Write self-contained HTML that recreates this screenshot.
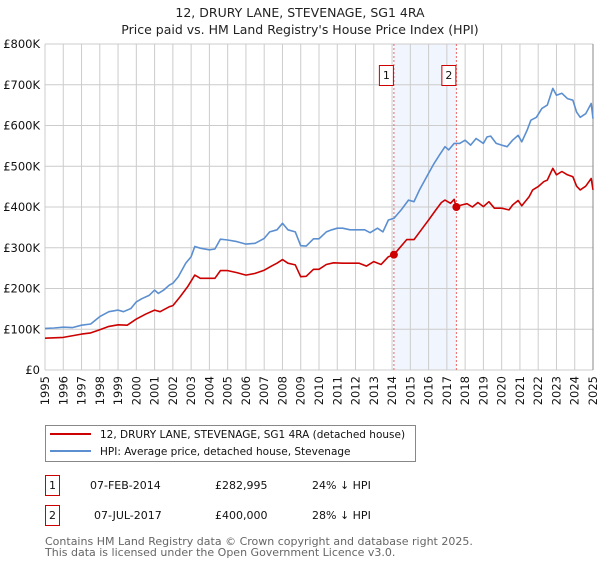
<!DOCTYPE html>
<html><head><meta charset="utf-8"><style>
body{margin:0;background:#fff;font-family:"DejaVu Sans","Liberation Sans",sans-serif;}
svg text{font-family:"DejaVu Sans","Liberation Sans",sans-serif;}
</style></head><body>
<svg id="chart" width="600" height="560" viewBox="0 0 600 560" xmlns="http://www.w3.org/2000/svg">
<text x="300" y="17" text-anchor="middle" font-size="12.5" fill="#222">12, DRURY LANE, STEVENAGE, SG1 4RA</text>
<text x="300" y="34" text-anchor="middle" font-size="12.5" fill="#222">Price paid vs. HM Land Registry's House Price Index (HPI)</text>
<g id="plot"></g>
<g>
<rect x="45.5" y="425.5" width="370" height="36" fill="#fff" stroke="#888"/>
<line x1="50" y1="434" x2="91" y2="434" stroke="#cc0000" stroke-width="2"/>
<text x="100" y="438" font-size="10.5" fill="#111">12, DRURY LANE, STEVENAGE, SG1 4RA (detached house)</text>
<line x1="50" y1="451" x2="91" y2="451" stroke="#5b8fd0" stroke-width="2"/>
<text x="100" y="455" font-size="10.5" fill="#111">HPI: Average price, detached house, Stevenage</text>
</g>
<g font-size="11" fill="#111">
<rect x="45.5" y="475.5" width="14" height="20" fill="none" stroke="#cc0000"/>
<text x="52.5" y="489" text-anchor="middle">1</text>
<text x="90" y="489">07-FEB-2014</text>
<text x="215" y="489">£282,995</text>
<text x="312" y="489">24% ↓ HPI</text>
<rect x="45.5" y="505.5" width="14" height="20" fill="none" stroke="#cc0000"/>
<text x="52.5" y="519" text-anchor="middle">2</text>
<text x="94" y="519">07-JUL-2017</text>
<text x="215" y="519">£400,000</text>
<text x="312" y="519">28% ↓ HPI</text>
</g>
<g font-size="11" fill="#666">
<text x="45" y="545">Contains HM Land Registry data © Crown copyright and database right 2025.</text>
<text x="45" y="556">This data is licensed under the Open Government Licence v3.0.</text>
</g>
</svg>
<script>
const yTicks=[0,100,200,300,400,500,600,700,800];
const yTickLabels=["£0","£100K","£200K","£300K","£400K","£500K","£600K","£700K","£800K"];
const xYears=[1995,1996,1997,1998,1999,2000,2001,2002,2003,2004,2005,2006,2007,2008,2009,2010,2011,2012,2013,2014,2015,2016,2017,2018,2019,2020,2021,2022,2023,2024,2025];
const hpiDates=[1995.0,1995.5,1996.0,1996.5,1997.0,1997.5,1998.0,1998.5,1999.0,1999.3,1999.7,2000.0,2000.3,2000.7,2001.0,2001.2,2001.5,2001.8,2002.0,2002.3,2002.7,2003.0,2003.2,2003.5,2004.0,2004.3,2004.6,2005.0,2005.5,2006.0,2006.5,2007.0,2007.3,2007.7,2008.0,2008.3,2008.7,2009.0,2009.3,2009.7,2010.0,2010.4,2010.7,2011.0,2011.3,2011.7,2012.0,2012.5,2012.8,2013.2,2013.5,2013.8,2014.1,2014.5,2014.9,2015.2,2015.5,2016.0,2016.3,2016.6,2016.9,2017.1,2017.4,2017.7,2018.0,2018.3,2018.6,2019.0,2019.2,2019.4,2019.7,2020.0,2020.3,2020.6,2020.9,2021.1,2021.4,2021.6,2021.9,2022.2,2022.5,2022.8,2023.0,2023.3,2023.6,2023.9,2024.1,2024.3,2024.6,2024.9,2025.0];
const hpiValues=[102,103,105,104,110,113,131,143,147,143,151,167,175,183,196,188,196,208,213,229,262,278,303,299,295,297,321,319,315,309,311,323,339,344,360,344,339,305,304,322,322,339,344,348,348,344,344,344,337,348,339,368,372,393,417,413,442,483,507,528,548,540,556,556,564,552,568,556,572,574,556,552,548,564,576,560,589,613,620,642,650,691,674,679,666,662,633,620,629,654,617];
const priceDates=[1995.0,1996.0,1997.0,1997.5,1998.0,1998.5,1999.0,1999.5,2000.0,2000.5,2001.0,2001.3,2001.8,2002.0,2002.4,2002.8,2003.2,2003.5,2004.0,2004.3,2004.6,2005.0,2005.5,2006.0,2006.5,2007.0,2007.4,2007.7,2008.0,2008.3,2008.7,2009.0,2009.3,2009.7,2010.0,2010.4,2010.8,2011.3,2011.7,2012.2,2012.6,2013.0,2013.4,2013.8,2014.1,2014.4,2014.8,2015.2,2015.6,2016.0,2016.4,2016.7,2016.9,2017.2,2017.4,2017.5,2017.8,2018.1,2018.4,2018.7,2019.0,2019.3,2019.6,2020.0,2020.4,2020.6,2020.9,2021.1,2021.5,2021.7,2022.0,2022.3,2022.5,2022.8,2023.0,2023.3,2023.6,2023.9,2024.1,2024.3,2024.6,2024.9,2025.0];
const priceValues=[78,80,88,91,99,107,111,110,125,137,147,143,155,158,180,204,233,225,225,225,244,244,239,233,237,245,255,262,271,262,258,229,230,247,247,259,263,262,262,262,255,266,259,278,283,299,320,320,344,368,393,411,417,409,419,400,405,408,400,411,401,413,397,397,393,405,416,403,425,442,450,462,466,495,479,487,479,474,451,442,451,470,442];
const saleDates=[2014.1,2017.52];
const saleValues=[282.995,400];
const saleLabels=["1","2"];

const NS="http://www.w3.org/2000/svg";
const X0=45,X1=593,Y0=370,Y1=44;
const xs=t=>X0+(t-1995)/30*(X1-X0);
const ys=v=>Y0-v/800*(Y0-Y1);
const plot=document.getElementById('plot');
function mk(tag,attrs,parent){const e=document.createElementNS(NS,tag);for(const k in attrs)e.setAttribute(k,attrs[k]);(parent||plot).appendChild(e);return e;}

const sh=mk('rect',{x:xs(saleDates[0]),y:Y1,width:xs(saleDates[1])-xs(saleDates[0]),height:Y0-Y1,fill:'#eef3fd',opacity:'0.8'});


yTicks.forEach((v,i)=>{
  const l=mk('line',{x1:X0,x2:X1,y1:ys(v),y2:ys(v),stroke:'#cccccc'});
  
  
  const t=mk('text',{x:40,y:ys(v)+4,'text-anchor':'end','font-size':'11.5',fill:'#111'});
  
  
  t.textContent=yTickLabels[i];
});
xYears.forEach(yr=>{
  const l=mk('line',{x1:xs(yr),x2:xs(yr),y1:Y1,y2:Y0,stroke:'#cccccc'});
  
  
  const t=mk('text',{x:0,y:0,transform:`translate(${xs(yr)+4},${Y0+6}) rotate(-90)`,'text-anchor':'end','font-size':'11.5',fill:'#111'});
  
  
  t.textContent=yr;
});
const rb=mk('line',{x1:X1,x2:X1,y1:Y1,y2:Y0,stroke:'#888'});


saleDates.forEach((d,i)=>{
  const l=mk('line',{x1:xs(d),x2:xs(d),y1:Y1,y2:Y0,stroke:'#ee6666','stroke-dasharray':'2,2'});
  
  
  const r=mk('rect',{x:xs(d)-14.5,y:65.5,width:14,height:20,fill:'#fff',stroke:'#cc0000'});
  
  
  const t=mk('text',{x:xs(d)-7.5,y:79,'text-anchor':'middle','font-size':'11',fill:'#111'});
  
  
  t.textContent=saleLabels[i];
});
function line(dates,vals,color,name){
  const p=mk('polyline',{points:dates.map((d,i)=>xs(d).toFixed(1)+','+ys(vals[i]).toFixed(1)).join(' '),fill:'none',stroke:color,'stroke-width':'1.6','stroke-linejoin':'round'});
  
  
}
line(hpiDates,hpiValues,'#5b8fd0','hpi-line');
line(priceDates,priceValues,'#cc0000','price-paid-line');
saleDates.forEach((d,i)=>{
  const c=mk('circle',{cx:xs(d),cy:ys(saleValues[i]),r:4,fill:'#cc0000'});
  
  
});
</script>
</body></html>
